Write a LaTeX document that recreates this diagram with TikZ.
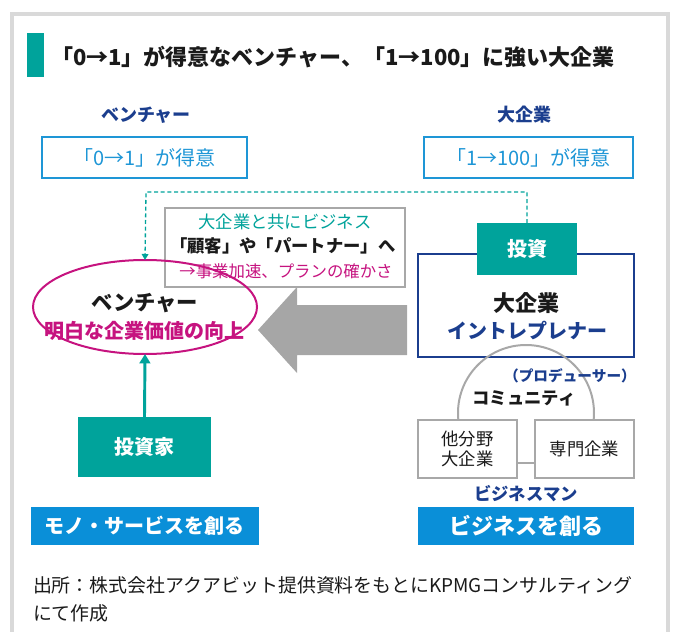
\documentclass[tikz,border=0pt]{standalone}
\usepackage{fontspec}
\setmainfont{Noto Sans CJK JP}
\usetikzlibrary{arrows.meta,shapes.geometric}
\definecolor{teal1}{HTML}{00A39B}
\definecolor{blue1}{HTML}{0A8FD8}
\definecolor{lblue}{HTML}{1E96D6}
\definecolor{navy}{HTML}{1B3E8E}
\definecolor{mag}{HTML}{C6137F}
\definecolor{frameg}{HTML}{D9D9D9}
\definecolor{arrowg}{HTML}{A6A6A6}
\definecolor{boxg}{HTML}{A8A8A8}
\definecolor{txt}{HTML}{1A1A1A}
\newcommand\fsz[1]{\fontsize{#1pt}{#1pt}\selectfont}
\tikzset{
  every node/.style={inner sep=0pt, outer sep=0pt, text=txt},
  sized/.style args={#1x#2}{minimum width={#1*0.75pt}, minimum height={#2*0.75pt}},
  lbbox/.style={draw=lblue, line width=1.5pt, text=lblue, font=\fsz{15}},
  tealbox/.style={fill=teal1, text=white, font=\bfseries\fsz{15}},
  bluebox/.style={fill=blue1, text=white, font=\bfseries\fsz{15}},
  graybox/.style={draw=boxg, fill=white, line width=1.5pt, font=\fsz{13}, align=center},
  heading/.style={text=navy, font=\bfseries\fsz{13.5}},
  tealdash/.style={draw=teal1, line width=1pt, dash pattern=on 3pt off 2pt},
}
\begin{document}
\begin{tikzpicture}[x=0.75pt,y=-0.75pt]
\useasboundingbox (0,0) rectangle (676,632);
% frame
\draw[frameg, line width=3pt] (12,632) -- (12,14) -- (668,14) -- (668,632);
% title
\fill[teal1] (27,33) rectangle (44,77);
\node[anchor=west, font=\bfseries\fsz{16.5}] (title) at (51,57) {「0→1」が得意なベンチャー、「1→100」に強い大企業};
% headings
\node[heading] (hv) at (146,115) {ベンチャー};
\node[heading] (hb) at (524,115) {大企業};
\node[lbbox, sized=205x41] (b01) at (144.5,157.5) {「0→1」が得意};
\node[lbbox, sized=209x41] (b1100) at (528.5,157.5) {「1→100」が得意};
% gray block arrow
\fill[arrowg] (258,330) -- (297,287) -- (297,305) -- (407,305) -- (407,355) -- (297,355) -- (297,373) -- cycle;
% callout
\node[draw=boxg, fill=white, line width=1.5pt, sized=240x79] (call) at (285,247.5) {};
\node[text=teal1, font=\fsz{13}] (c1) at (285,222) {大企業と共にビジネス};
\node[font=\bfseries\fsz{13}] (c2) at (283,246) {「顧客」や「パートナー」へ};
\node[text=mag, font=\fsz{12.3}] (c3) at (286,271) {→事業加速、プランの確かさ};
% venture ellipse
\node[ellipse, draw=mag, line width=1.5pt, sized=224x94] (ven) at (145,307) {};
\node[font=\bfseries\fsz{16}] (vt1) at (145,303) {ベンチャー};
\node[text=mag, font=\bfseries\fsz{15}] (vt2) at (145,331) {明白な企業価値の向上};
% investor
\node[tealbox, sized=133x60] (inv) at (144.5,447) {投資家};
\draw[teal1, line width=2.2pt, -{Triangle[length=7pt,width=8pt]}] (inv.north) -- (ven.south);
\node[bluebox, sized=228x38] (mono) at (145,526) {モノ・サービスを創る};
% big company
\node[draw=navy, line width=1.5pt, sized=216x103] (big) at (526,305.5) {};
\node[font=\bfseries\fsz{16.5}] (bt1) at (526,303) {大企業};
\node[text=navy, font=\bfseries\fsz{15}] (bt2) at (527,331) {イントレプレナー};
\node[tealbox, sized=100x52] (toushi) at (527,249) {投資};
% dashed link
\coordinate (d1) at (527,192);
\coordinate (d2) at (146,192);
\draw[tealdash, -{Triangle[length=4.5pt,width=5pt]}] (toushi.north) -- (d1) -- (d2) -- (ven.north);
% community (only the upper arc shows)
\begin{scope}
\clip (400,330) rectangle (660,421);
\node[circle, draw=boxg, line width=1.5pt, minimum size={136*0.75pt}] (comm) at (526,413) {};
\end{scope}
\node[text=navy, font=\bfseries\fsz{11}] (prod) at (570,376) {（プロデューサー）};
\node[font=\bfseries\fsz{13}] (commt) at (524,398) {コミュニティ};
\node[graybox, sized=99x58] (other) at (467.5,449) {他分野\\[2pt]大企業};
\node[graybox, sized=99x58] (spec) at (584.5,449) {専門企業};
\draw[boxg, line width=1.5pt] ([yshift=-10.5pt]other.east) -- ([yshift=-10.5pt]spec.west);
\node[text=navy, font=\bfseries\fsz{13}] (bman) at (526,494) {ビジネスマン};
\node[bluebox, font=\bfseries\fsz{16.5}, sized=216x38] (biz) at (526,526) {ビジネスを創る};
% footer
\node[anchor=west, font=\fsz{14.2}] (src1) at (33,585) {出所：株式会社アクアビット提供資料をもとにKPMGコンサルティング};
\node[anchor=west, font=\fsz{14.2}] (src2) at (33,613) {にて作成};
\end{tikzpicture}
\end{document}
